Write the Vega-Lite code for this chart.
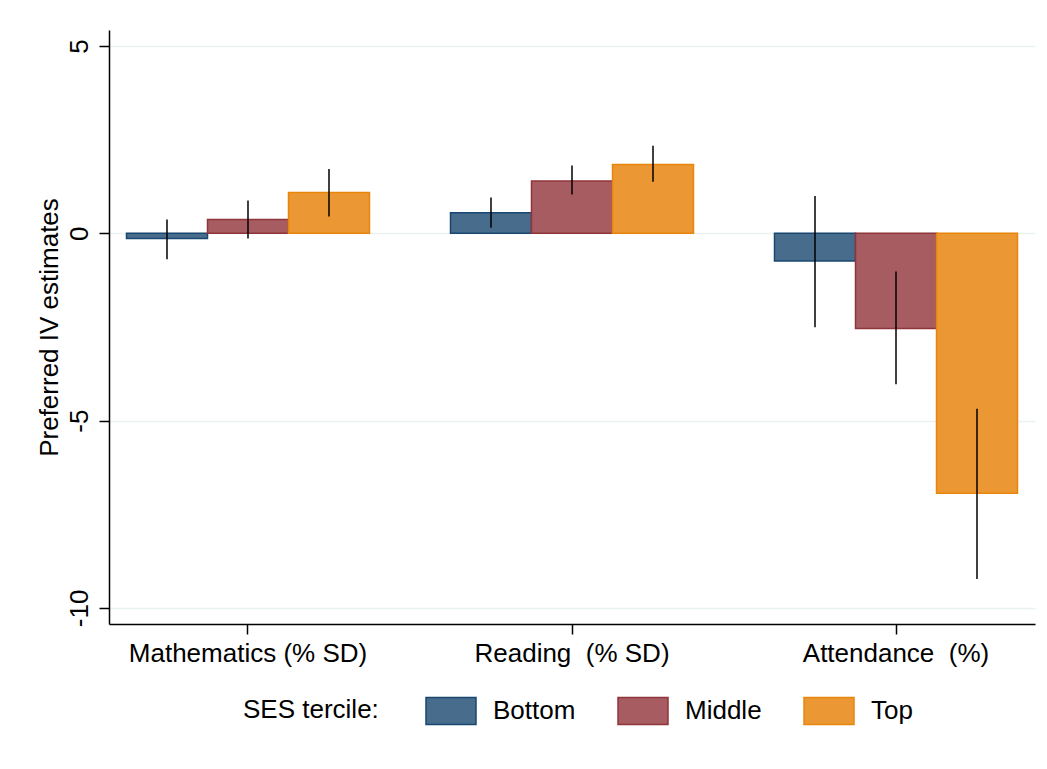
{
  "$schema": "https://vega.github.io/schema/vega-lite/v6.json",
  "width": 926,
  "height": 594,
  "autosize": {"type": "none"},
  "padding": {"left": 109, "top": 30, "right": 12, "bottom": 145},
  "background": "white",
  "config": {
    "font": "Liberation Sans",
    "view": {"stroke": null},
    "axis": {
      "labelFontSize": 26,
      "titleFontSize": 26,
      "labelColor": "black",
      "titleColor": "black",
      "titleFontWeight": "normal",
      "domainColor": "black",
      "tickColor": "black",
      "domainWidth": 1.5,
      "tickWidth": 1.5,
      "tickSize": 10,
      "labelLimit": 0
    },
    "legend": {"padding": 0}
  },
  "data": {
    "values": [
      {"outcome": "Mathematics (% SD)", "tercile": "Bottom", "est": -0.14, "lo": -0.69, "hi": 0.37},
      {"outcome": "Mathematics (% SD)", "tercile": "Middle", "est": 0.37, "lo": -0.14, "hi": 0.88},
      {"outcome": "Mathematics (% SD)", "tercile": "Top", "est": 1.09, "lo": 0.45, "hi": 1.72},
      {"outcome": "Reading \u00a0(% SD)", "tercile": "Bottom", "est": 0.55, "lo": 0.15, "hi": 0.96},
      {"outcome": "Reading \u00a0(% SD)", "tercile": "Middle", "est": 1.40, "lo": 1.04, "hi": 1.81},
      {"outcome": "Reading \u00a0(% SD)", "tercile": "Top", "est": 1.84, "lo": 1.38, "hi": 2.34},
      {"outcome": "Attendance \u00a0(%)", "tercile": "Bottom", "est": -0.74, "lo": -2.51, "hi": 1.0},
      {"outcome": "Attendance \u00a0(%)", "tercile": "Middle", "est": -2.54, "lo": -4.03, "hi": -1.02},
      {"outcome": "Attendance \u00a0(%)", "tercile": "Top", "est": -6.94, "lo": -9.23, "hi": -4.68}
    ]
  },
  "layer": [
    {
      "mark": {"type": "bar", "strokeWidth": 1.5, "opacity": 1},
      "encoding": {
        "x": {
          "field": "outcome",
          "type": "nominal",
          "sort": ["Mathematics (% SD)", "Reading \u00a0(% SD)", "Attendance \u00a0(%)"],
          "scale": {"paddingInner": 0.25, "paddingOuter": 0.054},
          "axis": {"title": null, "labelAngle": 0, "labelPadding": 6, "grid": false, "labelFontSize": 26, "labelLimit": 0}
        },
        "xOffset": {
          "field": "tercile",
          "type": "nominal",
          "sort": ["Bottom", "Middle", "Top"],
          "scale": {"paddingInner": 0, "paddingOuter": 0}
        },
        "y": {
          "field": "est",
          "type": "quantitative",
          "scale": {"domain": [-10.43, 5.43], "nice": false, "zero": false},
          "axis": {
            "title": "Preferred IV estimates",
            "values": [-10, -5, 0, 5],
            "labelExpr": "toString(datum.value)",
            "labelAngle": -90,
            "labelBaseline": "alphabetic",
            "labelAlign": "center",
            "labelPadding": 12,
            "grid": true,
            "gridColor": "#eaf2f3",
            "gridWidth": 1.5,
            "titleX": -52,
            "titleAngle": -90,
            "titleBaseline": "alphabetic",
            "titleAlign": "center"
          }
        },
        "y2": {"datum": 0},
        "fill": {
          "field": "tercile",
          "type": "nominal",
          "scale": {"domain": ["Bottom", "Middle", "Top"], "range": ["#486c8c", "#a65c60", "#ea9734"]},
          "legend": {
            "title": "SES tercile:",
            "orient": "none",
            "legendX": 134,
            "legendY": 655,
            "direction": "horizontal",
            "titleOrient": "left",
            "titleAnchor": "middle",
            "titleFontSize": 26,
            "titleFontWeight": "normal",
            "titleColor": "black",
            "titleBaseline": "line-top",
            "titleLineHeight": 9.5,
            "titlePadding": 46,
            "labelFontSize": 26,
            "labelColor": "black",
            "labelOffset": 16,
            "columnPadding": 39,
            "gridAlign": "none",
            "symbolType": "M-1,-0.54H1V0.54H-1Z",
            "symbolSize": 2500,
            "symbolStrokeWidth": 1.5,
            "symbolOpacity": 1
          }
        },
        "stroke": {
          "field": "tercile",
          "type": "nominal",
          "scale": {"domain": ["Bottom", "Middle", "Top"], "range": ["#1a476f", "#90353b", "#e8860c"]},
          "legend": {
            "title": "SES tercile:",
            "orient": "none",
            "legendX": 134,
            "legendY": 655,
            "direction": "horizontal",
            "titleOrient": "left",
            "titleAnchor": "middle",
            "titleFontSize": 26,
            "titleFontWeight": "normal",
            "titleColor": "black",
            "titleBaseline": "line-top",
            "titleLineHeight": 9.5,
            "titlePadding": 46,
            "labelFontSize": 26,
            "labelColor": "black",
            "labelOffset": 16,
            "columnPadding": 39,
            "gridAlign": "none",
            "symbolType": "M-1,-0.54H1V0.54H-1Z",
            "symbolSize": 2500,
            "symbolStrokeWidth": 1.5,
            "symbolOpacity": 1
          }
        }
      }
    },
    {
      "mark": {"type": "rule", "color": "black", "strokeWidth": 1.5},
      "encoding": {
        "x": {"field": "outcome", "type": "nominal", "sort": ["Mathematics (% SD)", "Reading \u00a0(% SD)", "Attendance \u00a0(%)"]},
        "xOffset": {"field": "tercile", "type": "nominal", "sort": ["Bottom", "Middle", "Top"]},
        "y": {"field": "lo", "type": "quantitative"},
        "y2": {"field": "hi"}
      }
    }
  ]
}
